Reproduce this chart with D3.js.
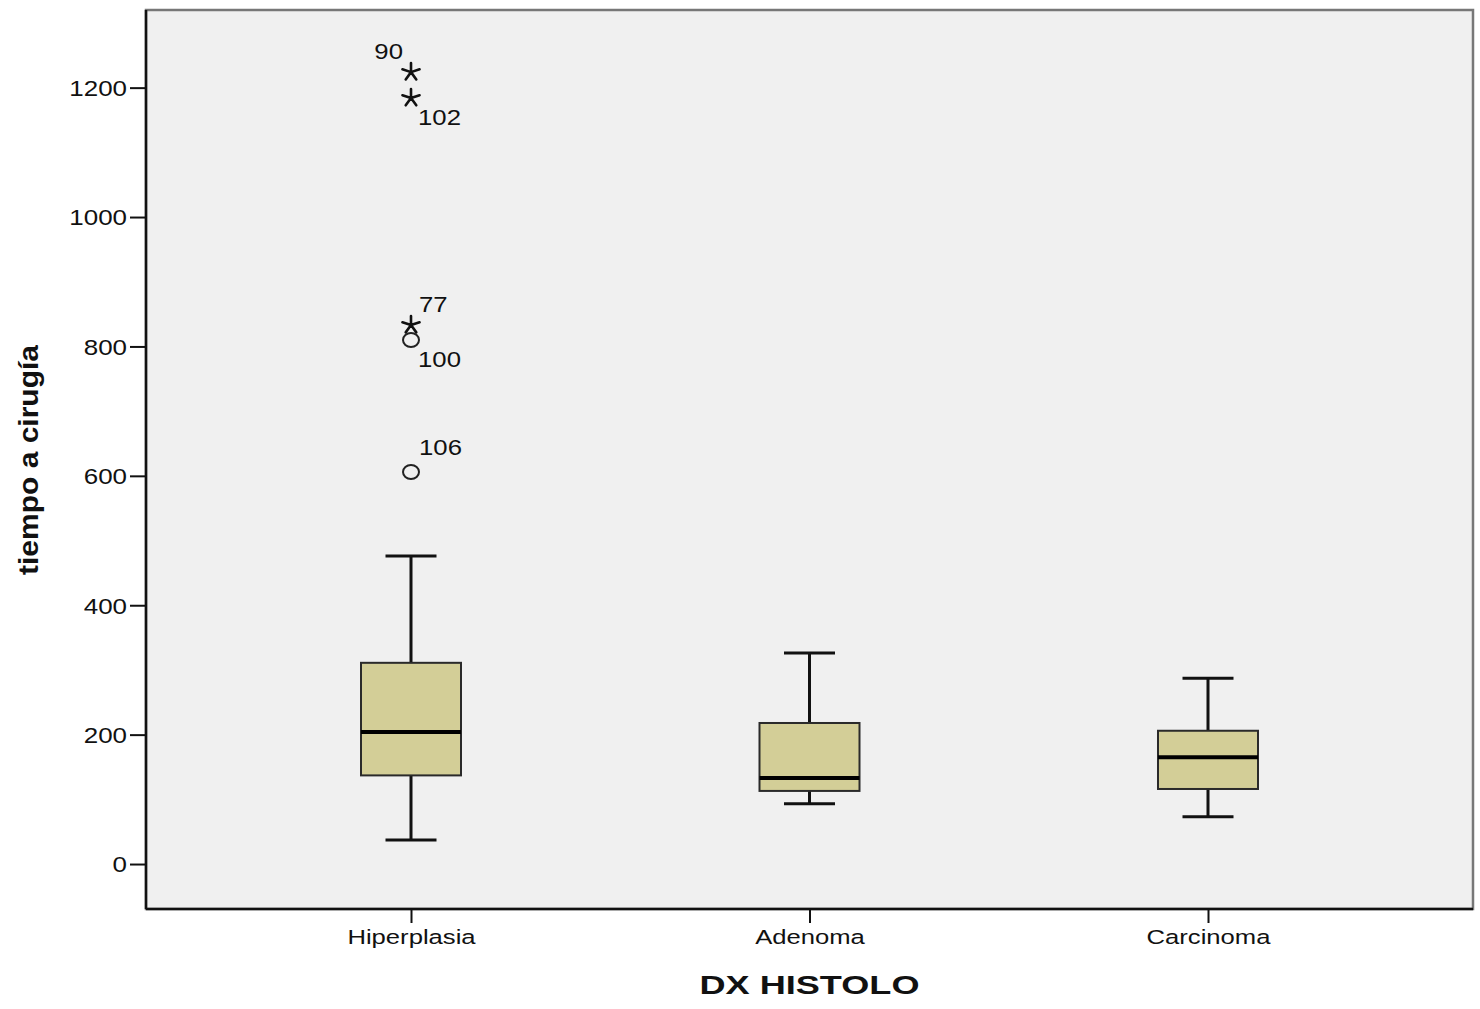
<!DOCTYPE html>
<html>
<head>
<meta charset="utf-8">
<title>tiempo a cirugía por DX HISTOLO</title>
<script src="https://cdn.jsdelivr.net/npm/d3@7"></script>
<style>
body { margin: 0; background: #ffffff; }
text { font-family: "Liberation Sans", Arial, sans-serif; fill: #111; }
</style>
</head>
<body>
<script>

// box summaries
var categories = ["Hiperplasia", "Adenoma", "Carcinoma"];
var whiskerLow = [37, 93, 73];
var q1 = [137, 113, 116];
var median = [204, 133, 165];
var q3 = [311, 218, 206];
var whiskerHigh = [476, 326, 287];

// outliers (all in Hiperplasia)
var outlierIds = [90, 102, 77, 100, 106];
var outlierValues = [1224, 1184, 833, 810, 606];
var outlierKind = ["extreme", "extreme", "extreme", "mild", "mild"];
var outlierGroup = ["Hiperplasia", "Hiperplasia", "Hiperplasia", "Hiperplasia", "Hiperplasia"];
var outlierLabelSide = ["upleft", "downright", "upright", "downright", "upright"];

var yTicks = [0, 200, 400, 600, 800, 1000, 1200];

var W = 1480, H = 1009;
var plot = {left: 146, top: 10, right: 1473, bottom: 909};

var svg = d3.select("body").append("svg")
  .attr("width", W)
  .attr("height", H);

var x = d3.scalePoint()
  .domain(categories)
  .range([plot.left, plot.right])
  .padding(0.665);

var y = d3.scaleLinear()
  .domain([-69.5, 1320])
  .range([plot.bottom, plot.top]);

// stretch text horizontally (picture is a bit wider than the font)
function stretch(sel, k) {
  sel.each(function() {
    var len = this.getComputedTextLength();
    d3.select(this).attr("textLength", len * k).attr("lengthAdjust", "spacingAndGlyphs");
  });
}

// plot background + frame
svg.append("rect")
  .attr("x", plot.left)
  .attr("y", plot.top)
  .attr("width", plot.right - plot.left)
  .attr("height", plot.bottom - plot.top)
  .style("fill", "#f0f0f0")
  .style("stroke", "#777")
  .style("stroke-width", 2.5);

// y axis
var yAxis = svg.append("g")
  .attr("transform", "translate(" + plot.left + ",0)")
  .call(d3.axisLeft(y).tickValues(yTicks).tickSize(16).tickPadding(3).tickFormat(d3.format("d")));
yAxis.select(".domain").remove();
yAxis.selectAll(".tick line").style("stroke", "#111").style("stroke-width", 2);
yAxis.selectAll(".tick text")
  .style("font-size", "22px")
  .attr("dy", "0.36em")
  .call(stretch, 1.18);

// x axis
var xAxis = svg.append("g")
  .attr("transform", "translate(0," + plot.bottom + ")")
  .call(d3.axisBottom(x).tickSize(14).tickPadding(6));
xAxis.select(".domain").remove();
xAxis.selectAll(".tick line").style("stroke", "#111").style("stroke-width", 2);
xAxis.selectAll(".tick text")
  .style("font-size", "20.5px")
  .call(stretch, 1.25);

// left and bottom axis lines in black
svg.append("line")
  .attr("x1", plot.left).attr("x2", plot.left)
  .attr("y1", plot.top).attr("y2", plot.bottom)
  .style("stroke", "#111").style("stroke-width", 2.5);
svg.append("line")
  .attr("x1", plot.left).attr("x2", plot.right)
  .attr("y1", plot.bottom).attr("y2", plot.bottom)
  .style("stroke", "#111").style("stroke-width", 2.5);

// boxes
var boxes = categories.map(function(c, i) {
  return {cat: c, lo: whiskerLow[i], q1: q1[i], med: median[i], q3: q3[i], hi: whiskerHigh[i]};
});
var boxW = 100, capW = 51;

var g = svg.selectAll(".box")
  .data(boxes)
  .enter().append("g")
  .attr("class", "box");

// whiskers
g.append("line")
  .attr("x1", function(d) { return x(d.cat); })
  .attr("x2", function(d) { return x(d.cat); })
  .attr("y1", function(d) { return y(d.hi); })
  .attr("y2", function(d) { return y(d.q3); })
  .style("stroke", "#111").style("stroke-width", 3);
g.append("line")
  .attr("x1", function(d) { return x(d.cat); })
  .attr("x2", function(d) { return x(d.cat); })
  .attr("y1", function(d) { return y(d.q1); })
  .attr("y2", function(d) { return y(d.lo); })
  .style("stroke", "#111").style("stroke-width", 3);
// caps
["hi", "lo"].forEach(function(k) {
  g.append("line")
    .attr("x1", function(d) { return x(d.cat) - capW / 2; })
    .attr("x2", function(d) { return x(d.cat) + capW / 2; })
    .attr("y1", function(d) { return y(d[k]); })
    .attr("y2", function(d) { return y(d[k]); })
    .style("stroke", "#111").style("stroke-width", 3);
});
// box
g.append("rect")
  .attr("x", function(d) { return x(d.cat) - boxW / 2; })
  .attr("y", function(d) { return y(d.q3); })
  .attr("width", boxW)
  .attr("height", function(d) { return y(d.q1) - y(d.q3); })
  .style("fill", "#d3ce97")
  .style("stroke", "#2a2a2a")
  .style("stroke-width", 2);
// median
g.append("line")
  .attr("x1", function(d) { return x(d.cat) - boxW / 2; })
  .attr("x2", function(d) { return x(d.cat) + boxW / 2; })
  .attr("y1", function(d) { return y(d.med); })
  .attr("y2", function(d) { return y(d.med); })
  .style("stroke", "#000").style("stroke-width", 4);

// outliers
var outliers = outlierIds.map(function(id, i) {
  return {id: id, val: outlierValues[i], kind: outlierKind[i], cat: outlierGroup[i], side: outlierLabelSide[i]};
});

function starPath(r) {
  var p = d3.path();
  for (var a = 0; a < 5; a++) {
    var ang = -Math.PI / 2 + a * 2 * Math.PI / 5;
    p.moveTo(0, 0);
    p.lineTo(r * Math.cos(ang), r * Math.sin(ang));
  }
  return p.toString();
}

var og = svg.selectAll(".outlier")
  .data(outliers)
  .enter().append("g")
  .attr("class", "outlier")
  .attr("transform", function(d) { return "translate(" + x(d.cat) + "," + y(d.val) + ")"; });

og.filter(function(d) { return d.kind === "extreme"; })
  .append("path")
  .attr("d", starPath(9))
  .style("fill", "none")
  .style("stroke", "#111")
  .style("stroke-width", 2.6)
  .style("stroke-linecap", "round");

og.filter(function(d) { return d.kind === "mild"; })
  .append("ellipse")
  .attr("rx", 8)
  .attr("ry", 7)
  .style("fill", "none")
  .style("stroke", "#222")
  .style("stroke-width", 2);

var labelOffset = {
  upleft: {dx: -8, dy: -13, anchor: "end"},
  downright: {dx: 7, dy: 27, anchor: "start"},
  upright: {dx: 8, dy: -13, anchor: "start"}
};

og.append("text")
  .attr("x", function(d) { return labelOffset[d.side].dx; })
  .attr("y", function(d) { return labelOffset[d.side].dy - (d.side === "upright" && d.kind === "mild" ? 4 : 0); })
  .attr("text-anchor", function(d) { return labelOffset[d.side].anchor; })
  .style("font-size", "22px")
  .text(function(d) { return d.id; })
  .call(stretch, 1.17);

// axis titles
svg.append("text")
  .attr("x", (plot.left + plot.right) / 2)
  .attr("y", 994)
  .attr("text-anchor", "middle")
  .style("font-size", "25px")
  .style("font-weight", "bold")
  .attr("textLength", 220)
  .attr("lengthAdjust", "spacingAndGlyphs")
  .text("DX HISTOLO");

svg.append("g")
  .attr("transform", "translate(38,460)")
  .append("text")
  .attr("transform", "rotate(-90)")
  .attr("text-anchor", "middle")
  .style("font-size", "27px")
  .style("font-weight", "bold")
  .attr("textLength", 230)
  .attr("lengthAdjust", "spacingAndGlyphs")
  .text("tiempo a cirugía");

</script>
</body>
</html>
